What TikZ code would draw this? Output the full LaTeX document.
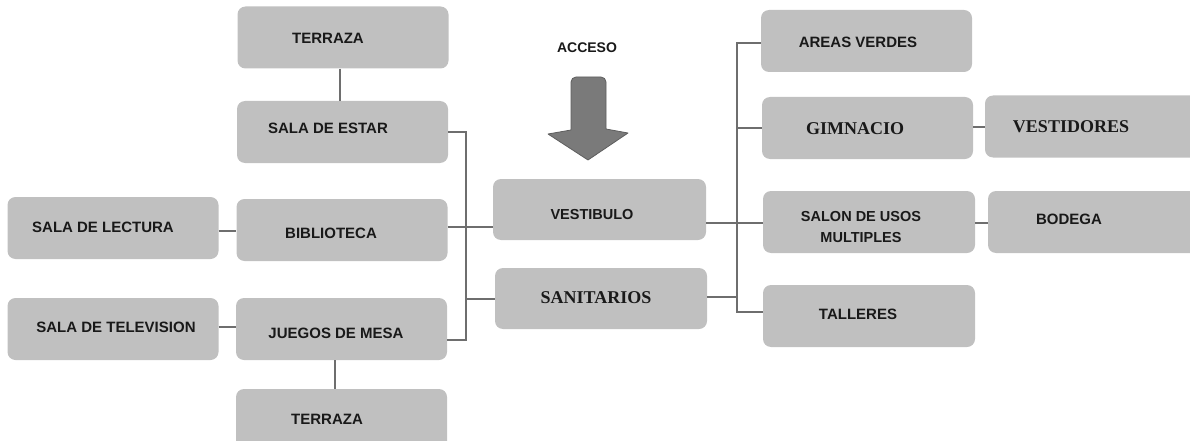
\documentclass[tikz,border=0pt]{standalone}
\usepackage{fontspec}
\setmainfont{Liberation Sans}
\newfontfamily\serifb{Liberation Serif}
\definecolor{boxgray}{HTML}{C0C0C0}
\definecolor{linegray}{HTML}{6E6E6E}
\definecolor{arrowfill}{HTML}{7A7A7A}
\definecolor{arrowedge}{HTML}{5E5E5E}
\begin{document}
\begin{tikzpicture}[x=1pt,y=-1pt,
  box/.style={fill=boxgray, draw=none, rounded corners=8pt, minimum width=211pt, minimum height=62pt, inner sep=0pt},
  lbl/.style={font=\bfseries\fontsize{15}{17}\selectfont, text=black!90, inner sep=0pt, align=center},
  slbl/.style={font=\serifb\bfseries\fontsize{18}{20}\selectfont, text=black!90, inner sep=0pt},
  conn/.style={draw=linegray, line width=2pt}]
\useasboundingbox (0,0) rectangle (1190,441);
\clip (0,0) rectangle (1190,441);
% boxes
\node[box] (terr1)  at (343,37.5) {};
\node[box] (estar)  at (342.5,132) {};
\node[box] (lect)   at (113,228) {};
\node[box] (bibl)   at (342,230) {};
\node[box] (tv)     at (113,329) {};
\node[box] (juegos) at (341.5,329) {};
\node[box, minimum height=70pt] (terr2) at (341.5,424) {};
\node[box, minimum width=213pt, minimum height=61pt] (vest)  at (599.5,209.5) {};
\node[box, minimum width=212pt, minimum height=61pt] (sanit) at (601,298.5) {};
\node[box] (areas)  at (866.5,41) {};
\node[box] (gimn)   at (867.5,128) {};
\node[box, minimum width=220pt] (vestid) at (1095,126.5) {};
\node[box, minimum width=212pt] (salon)  at (869,222) {};
\node[box, minimum width=220pt] (bodega) at (1098,222) {};
\node[box, minimum width=212pt] (taller) at (869,316) {};
% labels
\node[lbl] (terr1-t)  at (328,38)  {TERRAZA};
\node[lbl] (estar-t)  at (328,128) {SALA DE ESTAR};
\node[lbl] (lect-t)   at (103,227) {SALA DE LECTURA};
\node[lbl] (bibl-t)   at (331,233) {BIBLIOTECA};
\node[lbl] (tv-t)     at (116,327) {SALA DE TELEVISION};
\node[lbl] (juegos-t) at (336,333) {JUEGOS DE MESA};
\node[lbl] (terr2-t)  at (327,419) {TERRAZA};
\node[lbl, font=\bfseries\fontsize{14}{16}\selectfont] (acceso) at (587,48) {ACCESO};
\node[lbl, font=\bfseries\fontsize{14.5}{16}\selectfont] (vest-t) at (592,215) {VESTIBULO};
\node[slbl] (sanit-t)  at (596,298) {SANITARIOS};
\node[lbl] (areas-t)  at (858,42)  {AREAS VERDES};
\node[slbl] (gimn-t)   at (855,129) {GIMNACIO};
\node[slbl] (vestid-t) at (1071,127) {VESTIDORES};
\node[lbl, font=\bfseries\fontsize{14.5}{21.5}\selectfont] (salon-t) at (861,227) {SALON DE USOS\\MULTIPLES};
\node[lbl] (bodega-t) at (1069,219) {BODEGA};
\node[lbl] (taller-t) at (858,314) {TALLERES};
% access arrow
\filldraw[fill=arrowfill, draw=arrowedge, line width=0.8pt, line join=round]
  (571,130) [rounded corners=5pt] -- (571,77) -- (606,77) [sharp corners] -- (606,129)
  -- (628,133) -- (588,160) -- (548,134) -- cycle;
% bus coordinates
\coordinate (lb1) at (466,132);
\coordinate (lb2) at (466,340);
\coordinate (rb1) at (737,43);
\coordinate (rb2) at (737,312);
% left group connectors
\draw[conn] (terr1.south -| 340,0) -- (estar.north -| 340,0);
\draw[conn] (juegos.south -| 335,0) -- (terr2.north -| 335,0);
\draw[conn] (lect.east |- 0,231) -- (bibl.west |- 0,231);
\draw[conn] (tv.east |- 0,327) -- (juegos.west |- 0,327);
\draw[conn] (estar.east |- lb1) -- (lb1) -- (lb2) -- (juegos.east |- lb2);
\draw[conn] (bibl.east |- 0,227) -- (vest.west |- 0,227);
\draw[conn] (sanit.west |- 0,299) -- (lb1 |- 0,299);
% right group connectors
\draw[conn] (areas.west |- rb1) -- (rb1) -- (rb2) -- (taller.west |- rb2);
\draw[conn] (rb1 |- 0,128) -- (gimn.west |- 0,128);
\draw[conn] (vest.east |- 0,223) -- (salon.west |- 0,223);
\draw[conn] (sanit.east |- 0,297) -- (rb1 |- 0,297);
\draw[conn] (gimn.east |- 0,127) -- (vestid.west |- 0,127);
\draw[conn] (salon.east |- 0,223) -- (bodega.west |- 0,223);
\end{tikzpicture}
\end{document}
